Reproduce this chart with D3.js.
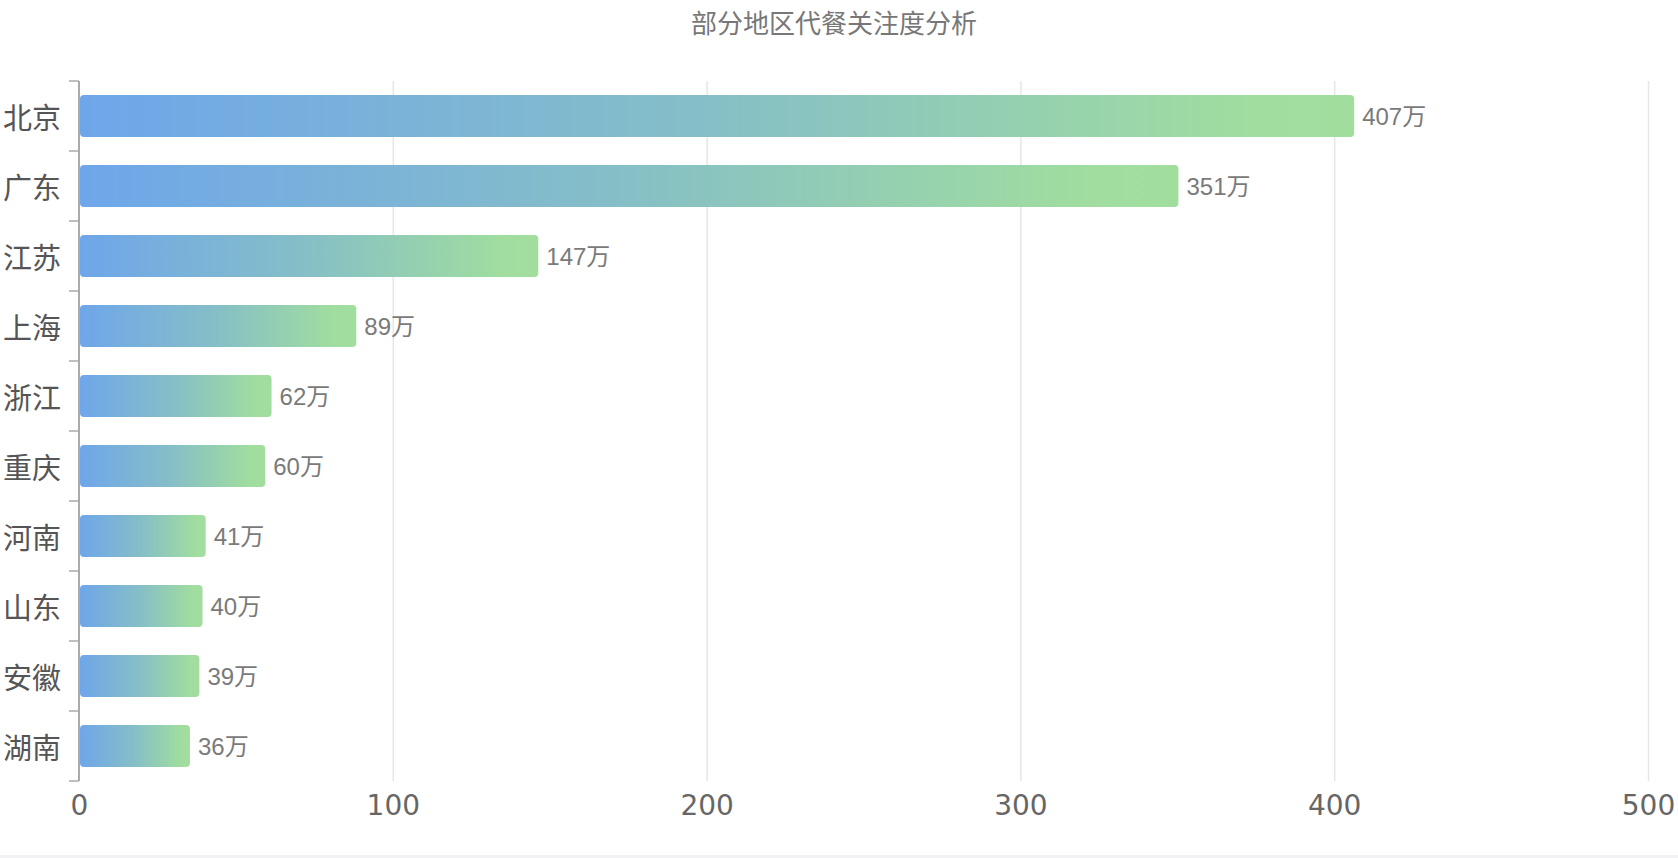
<!DOCTYPE html>
<html><head><meta charset="utf-8">
<script src="https://cdn.jsdelivr.net/npm/d3@7"></script>
<style>
html,body{margin:0;padding:0;background:#fff;}
svg{display:block;}
</style></head>
<body>
<svg id="chart" width="1678" height="858"></svg>
<script>
const titleText = "部分地区代餐关注度分析";
const categories = ["北京","广东","江苏","上海","浙江","重庆","河南","山东","安徽","湖南"];
const values = [407,351,147,89,62,60,41,40,39,36];
const xTicks = [0,100,200,300,400,500];
const unit = "万";

const W = 1678, H = 858;
const m = {left:79, right:30, top:81, bottom:77};
const svg = d3.select("#chart");

svg.append("rect").attr("x",0).attr("y",H-3).attr("width",W).attr("height",3).attr("fill","#f2f2f4");

const defs = svg.append("defs");
const grad = defs.append("linearGradient").attr("id","barGrad")
  .attr("x1","0%").attr("y1","0%").attr("x2","100%").attr("y2","0%");
grad.append("stop").attr("offset","0%").attr("stop-color","#6ea6ea");
grad.append("stop").attr("offset","50%").attr("stop-color","#86bfc6");
grad.append("stop").attr("offset","92%").attr("stop-color","#a0dd9f");
grad.append("stop").attr("offset","100%").attr("stop-color","#a1de9e");

const x = d3.scaleLinear().domain([0,500]).range([m.left, 1648]);
const y = d3.scaleBand().domain(categories).range([m.top, H-m.bottom]).paddingInner(0.4).paddingOuter(0.2);
const yb = d3.scaleBand().domain(categories).range([m.top, H-m.bottom]);

svg.append("text").attr("x",834).attr("y",21).attr("text-anchor","middle")
  .attr("dominant-baseline","central")
  .attr("font-family","'Noto Sans CJK SC', sans-serif").attr("font-size",26)
  .attr("fill","#777").text(titleText);

// grid
const gx = svg.append("g").attr("transform",`translate(0,${H-m.bottom})`)
  .call(d3.axisBottom(x).tickValues(xTicks).tickSize(-(H-m.bottom-m.top)).tickPadding(14));
gx.select(".domain").remove();
gx.selectAll(".tick line").attr("stroke","#e6e6e6").attr("stroke-width",1.5);
gx.selectAll(".tick text").attr("font-family","'DejaVu Sans', sans-serif").attr("font-size",28)
  .attr("fill","#666");
gx.selectAll(".tick").filter(d=>d===0).select("line").remove();

// bars
svg.append("g").selectAll("rect").data(categories).join("rect")
  .attr("x", x(0)+1)
  .attr("y", d=>y(d))
  .attr("height", y.bandwidth())
  .attr("width", (d,i)=>x(values[i])-x(0)-3)
  .attr("rx",4).attr("ry",4)
  .attr("fill","url(#barGrad)");

// value labels
svg.append("g").selectAll("text").data(categories).join("text")
  .attr("x",(d,i)=>x(values[i])+6)
  .attr("y",d=>y(d)+y.bandwidth()/2)
  .attr("dominant-baseline","central")
  .attr("font-family","'Liberation Sans','Noto Sans CJK SC', sans-serif")
  .attr("font-size",24).attr("fill","#7a7a7a")
  .text((d,i)=>values[i]+unit);

// y axis
const gy = svg.append("g").attr("transform",`translate(${m.left},0)`);
gy.append("line").attr("x1",0).attr("x2",0).attr("y1",m.top).attr("y2",H-m.bottom)
  .attr("stroke","#aaa").attr("stroke-width",2);
const bounds = categories.map(c=>yb(c)).concat([H-m.bottom]);
gy.selectAll("line.tk").data(bounds).join("line").attr("class","tk")
  .attr("x1",-10).attr("x2",0).attr("y1",d=>d).attr("y2",d=>d)
  .attr("stroke","#aaa").attr("stroke-width",1.5);
gy.selectAll("text").data(categories).join("text")
  .attr("x",-18).attr("y",d=>yb(d)+yb.bandwidth()/2)
  .attr("text-anchor","end").attr("dominant-baseline","central")
  .attr("font-family","'Noto Sans CJK SC', sans-serif").attr("font-size",29)
  .attr("fill","#555").text(d=>d);
</script>
</body></html>
